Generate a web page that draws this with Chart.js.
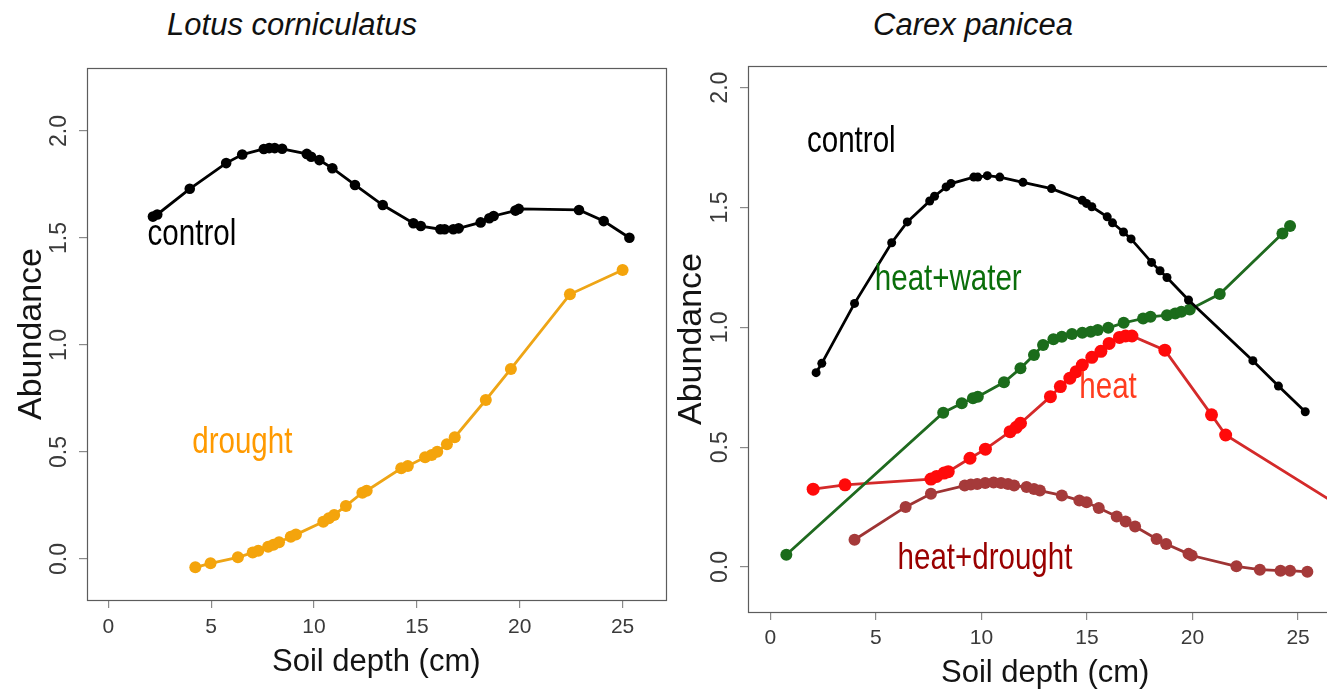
<!DOCTYPE html>
<html>
<head>
<meta charset="utf-8">
<script src="https://cdn.jsdelivr.net/npm/chart.js"></script>
<style>
  html, body { margin: 0; padding: 0; background: #fff; overflow: hidden; }
  body { width: 1327px; height: 692px; position: relative; }
  canvas { position: absolute; top: 0; }
  .ttl { position: absolute; top: 9px; font: italic 31px/31px "Liberation Sans", Arial, sans-serif; color: #111; transform: translateX(-50%); white-space: nowrap; }
</style>
</head>
<body>
<div class="ttl" style="left:292px">Lotus corniculatus</div>
<div class="ttl" style="left:973px">Carex panicea</div>
<canvas id="lotus" width="680" height="692" style="left:0"></canvas>
<canvas id="carex" width="700" height="692" style="left:660px"></canvas>
<script>
// tick values
var xTicks = [0, 5, 10, 15, 20, 25];
var yTicks = [0, 0.5, 1, 1.5, 2];

// Lotus corniculatus
var lotusControlDepth = [2.17, 2.38, 3.96, 5.73, 6.51, 7.56, 7.82, 8.09, 8.45, 9.65, 9.86, 10.26, 10.89, 11.99, 13.34, 14.83, 15.19, 16.14, 16.35, 16.77, 17.03, 18.1, 18.52, 18.73, 19.79, 19.95, 22.88, 24.08, 25.33];
var lotusControlAbund = [1.60, 1.61, 1.73, 1.85, 1.89, 1.916, 1.92, 1.92, 1.917, 1.893, 1.88, 1.864, 1.826, 1.748, 1.654, 1.569, 1.556, 1.541, 1.541, 1.541, 1.545, 1.573, 1.592, 1.603, 1.628, 1.636, 1.631, 1.579, 1.501];
var lotusDroughtDepth = [4.23, 4.97, 6.3, 7.02, 7.29, 7.77, 8.03, 8.3, 8.87, 9.12, 10.45, 10.72, 10.98, 11.55, 12.35, 12.56, 14.24, 14.56, 15.4, 15.72, 15.99, 16.46, 16.84, 18.35, 19.57, 22.44, 25.0];
var lotusDroughtAbund = [-0.039, -0.02, 0.008, 0.03, 0.039, 0.057, 0.067, 0.078, 0.104, 0.114, 0.174, 0.19, 0.206, 0.248, 0.31, 0.319, 0.424, 0.435, 0.475, 0.486, 0.501, 0.536, 0.569, 0.743, 0.888, 1.237, 1.35];

// Carex panicea
var carexControlDepth = [2.17, 2.44, 3.99, 5.75, 6.49, 7.55, 7.78, 8.33, 8.56, 9.64, 9.83, 10.28, 10.87, 11.97, 13.32, 14.78, 14.98, 15.23, 15.96, 16.21, 16.73, 17.09, 18.06, 18.46, 18.79, 19.81, 22.86, 24.07, 25.34];
var carexControlAbund = [0.811, 0.85, 1.1, 1.353, 1.44, 1.527, 1.547, 1.586, 1.6, 1.627, 1.627, 1.633, 1.627, 1.605, 1.579, 1.53, 1.517, 1.503, 1.461, 1.436, 1.398, 1.369, 1.271, 1.236, 1.208, 1.114, 0.861, 0.755, 0.648];
var carexWaterDepth = [0.76, 8.19, 9.07, 9.6, 9.83, 11.07, 11.85, 12.49, 12.92, 13.41, 13.81, 14.29, 14.78, 15.18, 15.51, 16.01, 16.74, 17.66, 18.01, 18.79, 19.18, 19.47, 19.87, 21.29, 24.26, 24.62];
var carexWaterAbund = [0.051, 0.644, 0.683, 0.704, 0.711, 0.771, 0.829, 0.885, 0.926, 0.95, 0.961, 0.972, 0.978, 0.982, 0.989, 0.998, 1.019, 1.037, 1.044, 1.051, 1.058, 1.065, 1.075, 1.139, 1.392, 1.423];
var carexHeatDepth = [2.03, 3.54, 7.61, 7.88, 8.23, 8.43, 9.46, 10.19, 11.36, 11.65, 11.85, 13.27, 13.74, 14.19, 14.49, 14.78, 15.23, 15.66, 16.05, 16.54, 16.83, 17.13, 18.69, 20.9, 21.57, 27.2];
var carexHeatAbund = [0.325, 0.343, 0.367, 0.378, 0.392, 0.398, 0.454, 0.492, 0.565, 0.583, 0.6, 0.711, 0.753, 0.788, 0.815, 0.843, 0.875, 0.9, 0.933, 0.958, 0.964, 0.964, 0.905, 0.635, 0.551, 0.242];
var carexDroughtDepth = [3.99, 6.41, 7.61, 9.21, 9.5, 9.8, 10.18, 10.58, 10.93, 11.26, 11.55, 12.14, 12.49, 12.77, 13.81, 14.64, 14.98, 15.56, 16.41, 16.83, 17.28, 18.3, 18.75, 19.81, 19.96, 22.08, 23.19, 24.17, 24.62, 25.44];
var carexDroughtAbund = [0.114, 0.251, 0.306, 0.34, 0.344, 0.347, 0.351, 0.353, 0.351, 0.347, 0.34, 0.334, 0.326, 0.319, 0.299, 0.278, 0.27, 0.246, 0.211, 0.19, 0.169, 0.117, 0.096, 0.055, 0.048, 0.003, -0.011, -0.015, -0.015, -0.02];

function pts(xs, ys) {
    return xs.map(function (x, i) { return { x: x, y: ys[i] }; });
}

function series(xs, ys, line, fill, r) {
    return {
        data: pts(xs, ys),
        showLine: true,
        borderColor: line,
        borderWidth: 2.8,
        pointRadius: r,
        pointBorderWidth: 0,
        pointBackgroundColor: fill,
        pointHoverRadius: r,
        tension: 0,
    };
}

Chart.defaults.font.family = "'Liberation Sans', Arial, sans-serif";
Chart.defaults.animation = false;

// frame around the plot and the in-plot text labels
var panelDecor = {
    id: "panelDecor",
    beforeDatasetsDraw: function (chart) {
        var a = chart.chartArea, ctx = chart.ctx;
        ctx.save();
        ctx.strokeStyle = "#5c5c5c";
        ctx.lineWidth = 1.2;
        ctx.strokeRect(Math.round(a.left) + 0.5, Math.round(a.top) + 0.5, Math.round(a.width), Math.round(a.height));
        ctx.restore();
    },
    afterDatasetsDraw: function (chart, args, opts) {
        var ctx = chart.ctx, xs = chart.scales.x, ys = chart.scales.y;
        (opts.labels || []).forEach(function (l) {
            ctx.save();
            ctx.translate(xs.getPixelForValue(l.x), ys.getPixelForValue(l.y));
            ctx.scale(0.82, 1);
            ctx.font = "36px 'Liberation Sans', Arial, sans-serif";
            ctx.fillStyle = l.color;
            ctx.textAlign = "left";
            ctx.textBaseline = "alphabetic";
            ctx.fillText(l.text, 0, 0);
            ctx.restore();
        });
    }
};

function makePanel(id, datasets, p) {
    return new Chart(document.getElementById(id), {
        type: "scatter",
        data: { datasets: datasets },
        plugins: [panelDecor],
        options: {
            responsive: false,
            devicePixelRatio: 1,
            layout: { padding: { top: p.top, right: p.right, left: 0, bottom: 0 } },
            plugins: {
                legend: { display: false },
                tooltip: { enabled: false },
                panelDecor: { labels: p.labels },
            },
            scales: {
                x: {
                    type: "linear",
                    min: p.xMin,
                    max: p.xMax,
                    afterBuildTicks: function (s) { s.ticks = xTicks.map(function (v) { return { value: v }; }); },
                    afterFit: function (s) { s.height = p.xAxisH; },
                    grid: { drawOnChartArea: false, tickLength: 8, color: "#8a8a8a", lineWidth: 1.2 },
                    border: { display: false },
                    ticks: { color: "#3a3a3a", font: { size: 21 }, padding: p.xPad, autoSkip: false, maxRotation: 0 },
                    title: { display: true, text: "Soil depth (cm)", color: "#141414", font: { size: 31 }, padding: { top: 0, bottom: p.xTitlePad } },
                },
                y: {
                    type: "linear",
                    min: p.yMin,
                    max: p.yMax,
                    afterBuildTicks: function (s) { s.ticks = yTicks.map(function (v) { return { value: v }; }); },
                    afterFit: function (s) { s.width = p.yAxisW; },
                    grid: { drawOnChartArea: false, tickLength: 8, color: "#8a8a8a", lineWidth: 1.2 },
                    border: { display: false },
                    ticks: {
                        color: "#3a3a3a", font: { size: 23 }, padding: 3, autoSkip: false,
                        minRotation: 90, maxRotation: 90, crossAlign: "center",
                        callback: function (v) { return Number(v).toFixed(1); }
                    },
                    title: { display: true, text: "Abundance", color: "#141414", font: { size: 34 }, padding: { top: 11.6, bottom: 0 } },
                },
            },
        },
    });
}

makePanel("lotus", [
    series(lotusControlDepth, lotusControlAbund, "#000000", "#000000", 5.3),
    series(lotusDroughtDepth, lotusDroughtAbund, "#eea516", "#f4a40c", 6),
], {
    top: 68, right: 14.4, xMin: -1.035, xMax: 27.09, yMin: -0.1916, yMax: 2.2944,
    xAxisH: 92, yAxisW: 87, xPad: 7, xTitlePad: 11.4,
    labels: [
        { text: "control", x: 1.91, y: 1.467, color: "#000000" },
        { text: "drought", x: 4.08, y: 0.494, color: "#ff9a00" },
    ],
});

makePanel("carex", [
    series(carexControlDepth, carexControlAbund, "#000000", "#000000", 4.5),
    series(carexWaterDepth, carexWaterAbund, "#1f6a1f", "#1b6c1b", 6),
    series(carexHeatDepth, carexHeatAbund, "#d42a2a", "#ff0a0a", 6.5),
    series(carexDroughtDepth, carexDroughtAbund, "#9e3434", "#a53a3a", 6),
], {
    top: 66, right: 17.6, xMin: -1.056, xMax: 27.1, yMin: -0.1875, yMax: 2.0904,
    xAxisH: 80, yAxisW: 88, xPad: 6, xTitlePad: 0,
    labels: [
        { text: "control", x: 1.74, y: 1.732, color: "#000000" },
        { text: "heat+water", x: 4.95, y: 1.155, color: "#0a6e0a" },
        { text: "heat", x: 14.64, y: 0.707, color: "#ff3c1e" },
        { text: "heat+drought", x: 6.03, y: -0.008, color: "#990000" },
    ],
});
</script>
</body>
</html>
